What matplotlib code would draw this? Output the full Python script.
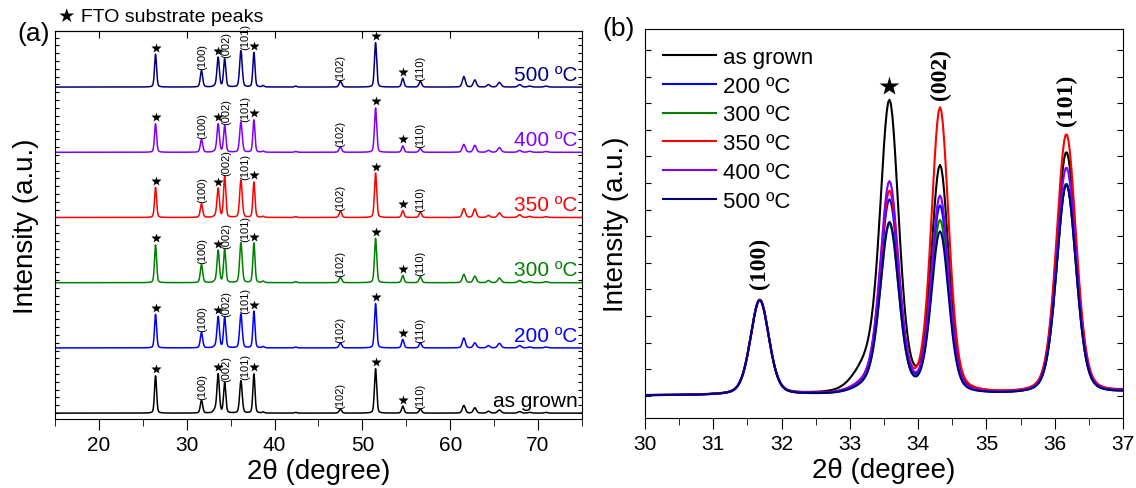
import numpy as np
import matplotlib.pyplot as plt
from matplotlib.ticker import MultipleLocator

plt.rcParams['font.family'] = ['Liberation Sans', 'DejaVu Sans']

samples = ['as grown', '200 ºC', '300 ºC', '350 ºC', '400 ºC', '500 ºC']
colors = ['black', '#0000ff', '#008000', '#ff0000', '#8000ff', '#000080']

# peak table: 2theta, FWHM, and heights relative to ZnO (100)
peak_pos = [26.45, 31.68, 33.25, 33.58, 34.32, 36.17, 37.65, 38.7, 42.4, 47.5,
            51.5, 54.6, 56.6, 61.55, 62.8, 64.35, 65.6, 67.9, 69.05, 70.9]
peak_fwhm = [0.28, 0.32, 0.45, 0.32, 0.30, 0.34, 0.28, 0.30, 0.30, 0.35,
             0.30, 0.32, 0.34, 0.40, 0.40, 0.40, 0.45, 0.45, 0.45, 0.45]
h_as_grown = [2.95, 1.0, 0.25, 3.02, 2.38, 2.55, 3.1, 0.08, 0.06, 0.30,
              3.5, 0.55, 0.33, 0.60, 0.42, 0.15, 0.25, 0.12, 0.06, 0.06]
h_200 = [2.2, 1.0, 0.08, 2.02, 1.97, 2.22, 2.4, 0.08, 0.06, 0.33,
         2.9, 0.55, 0.33, 0.65, 0.33, 0.15, 0.30, 0.15, 0.06, 0.06]
h_300 = [2.1, 1.0, 0.06, 1.77, 1.82, 2.22, 2.2, 0.08, 0.06, 0.30,
         2.46, 0.40, 0.34, 0.46, 0.36, 0.12, 0.26, 0.12, 0.06, 0.06]
h_350 = [2.2, 1.0, 0.08, 2.10, 3.0, 2.74, 2.6, 0.08, 0.06, 0.45,
         3.25, 0.50, 0.40, 0.65, 0.62, 0.15, 0.33, 0.20, 0.08, 0.06]
h_400 = [2.25, 1.0, 0.08, 2.21, 2.07, 2.39, 2.55, 0.08, 0.06, 0.42,
         3.5, 0.50, 0.30, 0.62, 0.55, 0.15, 0.37, 0.15, 0.08, 0.06]
h_500 = [2.0, 1.0, 0.06, 1.79, 1.70, 2.21, 2.1, 0.08, 0.06, 0.36,
         2.7, 0.53, 0.36, 0.64, 0.43, 0.15, 0.28, 0.15, 0.06, 0.06]
heights = [h_as_grown, h_200, h_300, h_350, h_400, h_500]

fto_peaks = [26.45, 33.58, 37.65, 51.5, 54.6]
zno_peaks = [31.68, 34.32, 36.17, 47.5, 56.6]
zno_labels = ['(100)', '(002)', '(101)', '(102)', '(110)']


def pattern(x, h):
    y = np.zeros_like(x)
    for p, w, a in zip(peak_pos, peak_fwhm, h):
        d = (x - p) / w
        g = np.exp(-4 * np.log(2) * d ** 2)
        l = 1 / (1 + 4 * d ** 2)
        y += a * (0.72 * g + 0.28 * l)
    return y


x = np.arange(15, 75.001, 0.02)
curves = [pattern(x, h) for h in heights]

fig = plt.figure(figsize=(11.36, 4.89), dpi=100)
ax1 = fig.add_axes([0.0484, 0.1411, 0.4639, 0.7935])
ax2 = fig.add_axes([0.5678, 0.1431, 0.4208, 0.7955])

# (a) stacked patterns
scale = 0.68
for i, (y, c, s) in enumerate(zip(curves, colors, samples)):
    ya = y / y.max() * scale + i
    ax1.plot(x, ya, color=c, lw=1.1)
    tops = [ya[np.argmin(abs(x - p))] for p in fto_peaks]
    ax1.plot(fto_peaks, np.array(tops) + 0.1, '*', color='k', ms=7, mec='none')
    for p, lab, dx in zip(zno_peaks, zno_labels, [0.05, 0.2, 0.45, 0.0, 0.0]):
        top = ya[np.argmin(abs(x - p))]
        ax1.text(p + dx, top + 0.02, lab, rotation=90, fontsize=8,
                 ha='center', va='bottom')
    ax1.text(74.5, i + 0.05, s, color=c, fontsize=15, ha='right', va='bottom')

ax1.set_xlim(15, 75)
ax1.set_ylim(-0.09, 5.86)
ax1.xaxis.set_major_locator(MultipleLocator(10))
ax1.xaxis.set_minor_locator(MultipleLocator(5))
ax1.yaxis.set_major_locator(MultipleLocator(0.12))
ax1.set_yticklabels([])
ax1.tick_params(axis='x', which='major', direction='out', length=8, labelsize=15)
ax1.tick_params(axis='x', which='minor', direction='out', length=5)
ax1.tick_params(axis='y', direction='in', length=3, left=True, right=True)
sec = ax1.secondary_xaxis('top')
sec.xaxis.set_major_locator(MultipleLocator(10))
sec.tick_params(direction='in', length=5, labeltop=False)
ax1.set_xlabel('2θ (degree)', fontsize=20, labelpad=3)
ax1.set_ylabel('Intensity (a.u.)', fontsize=20, labelpad=8)
fig.text(0.015, 0.93, '(a)', fontsize=19, va='center')
fig.text(0.051, 0.965, '★ FTO substrate peaks', fontsize=14, va='center')

# (b) zoom on ZnO main peaks, normalised on (100)
for y, c, s in zip(curves, colors, samples):
    ax2.plot(x, y, color=c, lw=1.5, label=s)
ax2.set_xlim(30, 37)
ax2.set_ylim(-0.235, 3.86)
ax2.xaxis.set_major_locator(MultipleLocator(1))
ax2.xaxis.set_minor_locator(MultipleLocator(0.5))
ax2.yaxis.set_major_locator(MultipleLocator(0.28))
ax2.set_yticklabels([])
ax2.tick_params(axis='x', which='major', direction='out', length=8, labelsize=15)
ax2.tick_params(axis='x', which='minor', direction='out', length=5)
ax2.tick_params(axis='y', direction='in', length=4, left=True, right=True)
ax2.set_xlabel('2θ (degree)', fontsize=20, labelpad=3)
ax2.set_ylabel('Intensity (a.u.)', fontsize=20, labelpad=8)

for p, lab, gap in zip(zno_peaks[:3], zno_labels[:3], [0.12, 0.09, 0.1]):
    top = max(y[np.argmin(abs(x - p))] for y in curves)
    ax2.text(p, top + gap, lab, rotation=90, fontsize=17, ha='center', va='bottom',
             family='Liberation Serif', weight='bold')
star_top = max(y[np.argmin(abs(x - fto_peaks[1]))] for y in curves)
ax2.plot([fto_peaks[1]], [star_top + 0.14], '*', color='k', ms=15, mec='none')
ax2.legend(loc='upper left', frameon=False, fontsize=16, handlelength=2.4,
           handletextpad=0.3, labelspacing=0.35, borderaxespad=0.4)
fig.text(0.53, 0.94, '(b)', fontsize=19, va='center')

fig.savefig('out.png', dpi=100)
